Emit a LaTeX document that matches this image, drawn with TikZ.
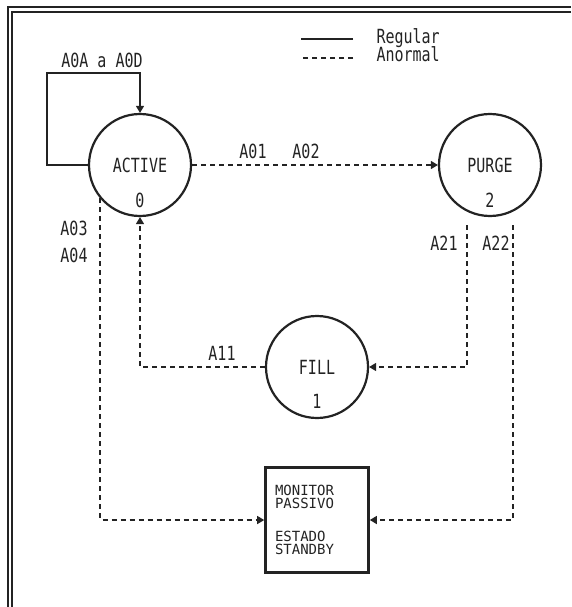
\documentclass[tikz,border=0pt]{standalone}
\usepackage{fontspec}
\setmonofont{DejaVu Sans Mono}
\usepackage{xcolor}
\usepackage{graphicx}
\usetikzlibrary{arrows.meta}
\definecolor{tintacolor}{RGB}{35, 35, 35}
\newcommand{\alto}[1]{\scalebox{1}[1.3]{#1}}

\begin{document}
\begin{tikzpicture}[
    x=1pt, y=-1pt,
    every node/.style={font=\ttfamily\fontsize{15}{12}\selectfont, text=tintacolor},
    estado/.style={circle, draw=tintacolor, line width=2.2pt, minimum size=102pt, inner sep=0pt},
    numero/.style={label={[label distance=-28pt]below:{\alto{#1}}}},
    regular/.style={draw=tintacolor, line width=1.3pt},
    anormal/.style={regular, dash pattern=on 5pt off 4pt},
    seta/.style={-{Triangle[length=7pt,width=8pt]}}
]
\useasboundingbox (0,0) rectangle (571,607);

% moldura
\draw[regular, line width=1.5pt] (571,7) -- (8,7) -- (8,607);
\draw[regular, line width=1.5pt] (571,12) -- (12,12) -- (12,607);

% legenda
\node[anchor=west] (regtxt) at (373,38) {\alto{Regular}};
\node[anchor=west] (anotxt) at (373,54) {\alto{Anormal}};
\draw[regular] ([xshift=-20pt, yshift=-1pt]regtxt.west) -- ++(-52,0);
\draw[anormal] ([xshift=-20pt, yshift=-4pt]anotxt.west) -- ++(-52,0);

% estados
\node[estado, numero=0] (active) at (140,165) {\alto{ACTIVE}};
\node[estado, numero=2] (purge) at (490,165) {\alto{PURGE}};
\node[estado, numero=1] (fill) at (317,367) {\alto{FILL}};
\node[draw=tintacolor, line width=2.6pt, minimum width=103pt, minimum height=105pt,
      text width=84pt, align=left, inner sep=0pt,
      font=\ttfamily\fontsize{14}{12.5}\selectfont] (monitor) at (317,520)
      {MONITOR\\PASSIVO\\[21pt]ESTADO\\STANDBY};

% eventos
\coordinate (laco) at (47,73);
\draw[regular, seta] (active.west) -| (laco) -| (active.north);
\node (a0a) at (102,60) {\alto{A0A a A0D}};

\draw[anormal, seta] (active) -- (purge);
\node (a01) at (253,151) {\alto{A01}};
\node (a02) at (306,151) {\alto{A02}};

\draw[anormal, seta] (active.220) |- (monitor.west);
\node (a03) at (74,228) {\alto{A03}};
\node (a04) at (74,255) {\alto{A04}};

\draw[anormal, seta] (fill.west) -| (active.south);
\node (a11) at (222,353) {\alto{A11}};

\draw[anormal, seta] ([xshift=-23pt, yshift=-8pt]purge.south) |- (fill.east);
\draw[anormal, seta] ([xshift=23pt, yshift=-8pt]purge.south) |- (monitor.east);
\node (a21) at (444,243) {\alto{A21}};
\node (a22) at (496,243) {\alto{A22}};
\end{tikzpicture}
\end{document}
